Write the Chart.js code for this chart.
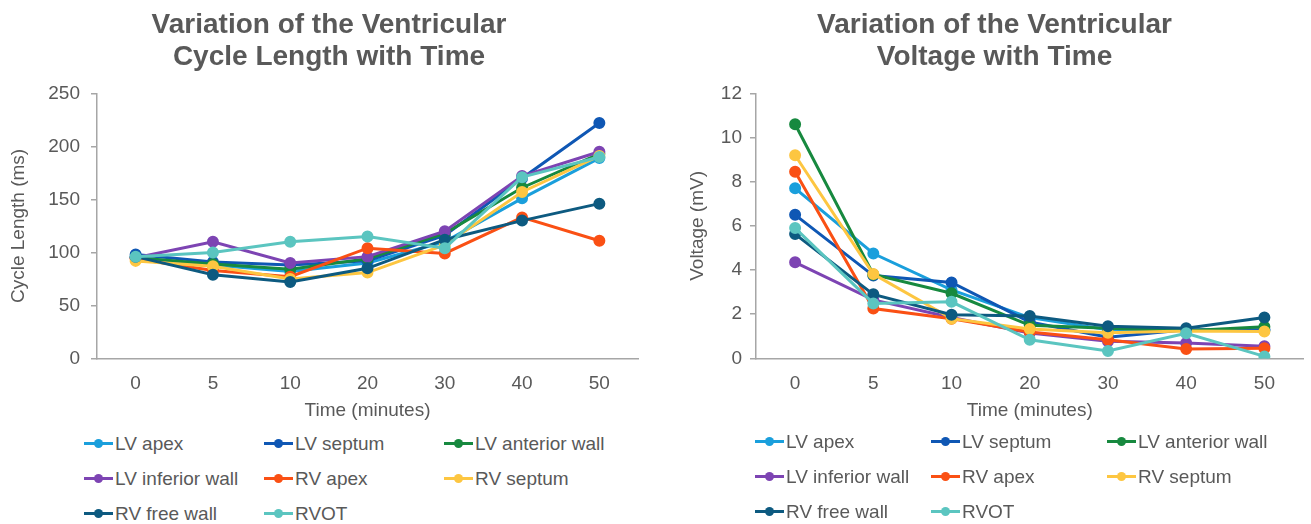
<!DOCTYPE html>
<html>
<head>
<meta charset="utf-8">
<script src="https://cdn.jsdelivr.net/npm/chart.js@4.4.1/dist/chart.umd.min.js"></script>
<style>
    body { margin: 0; background: #fff; font-family: "Liberation Sans", Arial, sans-serif; }
    .panel { position: absolute; top: 0; height: 524px; }
    .box { position: relative; height: 425px; }
    .legend { position: absolute; display: grid; grid-auto-rows: 35px; color: #595959; font-size: 19px; }
    .item { display: flex; align-items: center; white-space: nowrap; }
    .mark { position: relative; width: 29px; height: 3px; margin-right: 2px; }
    .mark i { position: absolute; left: 10px; top: -3px; width: 9px; height: 9px; border-radius: 50%; }
</style>
</head>
<body>
<div class="panel" style="left:0;width:660px">
    <div class="box"><canvas id="cycleChart"></canvas></div>
    <div class="legend" id="cycleLegend" style="left:84px;top:426px;grid-template-columns:180px 180px 180px"></div>
</div>
<div class="panel" style="left:680px;width:631px">
    <div class="box"><canvas id="voltageChart"></canvas></div>
    <div class="legend" id="voltageLegend" style="left:75px;top:424px;grid-template-columns:176px 176px 176px"></div>
</div>
<script>
const times = ["0", "5", "10", "20", "30", "40", "50"];
const sites = ["LV apex", "LV septum", "LV anterior wall", "LV inferior wall",
    "RV apex", "RV septum", "RV free wall", "RVOT"];
const colors = ["#1a9fdc", "#0f57b4", "#17893f", "#7d44b3",
    "#fa5014", "#fdc641", "#0d5a80", "#5bc5c0"];

// cycle length (ms)
const clLvApex = [95, 88, 82, 90, 110, 151, 189];
const clLvSeptum = [98, 91, 88, 92, 116, 170, 222];
const clLvAnterior = [95, 89, 84, 94, 118, 161, 193];
const clLvInferior = [95, 110, 90, 96, 120, 172, 195];
const clRvApex = [94, 83, 77, 104, 99, 133, 111];
const clRvSeptum = [92, 87, 75, 81, 107, 157, 191];
const clRvFree = [96, 79, 72, 85, 112, 130, 146];
const clRvot = [96, 100, 110, 115, 104, 171, 190];

// voltage (mV)
const vLvApex = [7.7, 4.75, 3.1, 1.85, 1.3, 1.28, 1.28];
const vLvSeptum = [6.5, 3.75, 3.44, 1.65, 0.96, 1.3, 1.3];
const vLvAnterior = [10.6, 3.8, 2.95, 1.5, 1.37, 1.25, 1.43];
const vLvInferior = [4.35, 2.65, 1.85, 1.15, 0.78, 0.7, 0.55];
const vRvApex = [8.45, 2.26, 1.8, 1.2, 0.84, 0.43, 0.46];
const vRvSeptum = [9.2, 3.82, 1.8, 1.33, 1.16, 1.24, 1.22];
const vRvFree = [5.63, 2.9, 1.98, 1.92, 1.46, 1.37, 1.85];
const vRvot = [5.9, 2.49, 2.56, 0.84, 0.34, 1.14, 0.09];

const cycleSeries = [clLvApex, clLvSeptum, clLvAnterior, clLvInferior, clRvApex, clRvSeptum, clRvFree, clRvot];
const voltageSeries = [vLvApex, vLvSeptum, vLvAnterior, vLvInferior, vRvApex, vRvSeptum, vRvFree, vRvot];

const grey = "#595959";
const axisGrey = "#a6a6a6";
const font = "'Liberation Sans', Arial, sans-serif";

function buildLegend(chart, id) {
    const el = document.getElementById(id);
    chart.data.datasets.forEach(ds => {
        const item = document.createElement("div");
        item.className = "item";
        item.innerHTML = '<span class="mark" style="background:' + ds.borderColor +
            '"><i style="background:' + ds.borderColor + '"></i></span>' + ds.label;
        el.appendChild(item);
    });
}

function makeChart(canvasId, legendId, title, yTitle, yMax, step, series, axisWidth, rightGap, tickPad, titlePad) {
    const chart = new Chart(document.getElementById(canvasId), {
        type: "line",
        data: {
            labels: times,
            datasets: series.map((values, i) => ({
                label: sites[i],
                data: values,
                borderColor: colors[i],
                backgroundColor: colors[i],
                pointBackgroundColor: colors[i],
                pointBorderColor: colors[i],
                borderWidth: 3,
                pointRadius: 4.5,
                tension: 0,
                order: series.length - i,
            })),
        },
        options: {
            responsive: true,
            maintainAspectRatio: false,
            animation: false,
            layout: { padding: { top: 0, right: 2, bottom: 0, left: 0 } },
            plugins: {
                legend: { display: false },
                tooltip: { enabled: false },
                title: {
                    display: true,
                    text: title,
                    color: grey,
                    font: { family: font, size: 28, weight: "bold", lineHeight: 1.15 },
                    padding: { top: 9, bottom: 20 },
                },
            },
            scales: {
                x: {
                    offset: true,
                    grid: { display: true, drawOnChartArea: false, drawTicks: false },
                    border: { display: true, color: axisGrey, width: 1.5 },
                    ticks: { color: grey, padding: 14, font: { family: font, size: 19 } },
                    title: {
                        display: true,
                        text: "Time (minutes)",
                        color: grey,
                        font: { family: font, size: 19 },
                        padding: { top: -10, bottom: 3 },
                    },
                },
                y: {
                    min: 0,
                    max: yMax,
                    afterFit: scale => { scale.width = axisWidth; },
                    grid: { display: true, drawOnChartArea: false, drawTicks: true, tickLength: 6, color: axisGrey, lineWidth: 1.5 },
                    border: { display: true, color: axisGrey, width: 1.5 },
                    ticks: { stepSize: step, color: grey, padding: tickPad, font: { family: font, size: 19 } },
                    title: {
                        display: true,
                        text: yTitle,
                        color: grey,
                        font: { family: font, size: 19 },
                        padding: { top: titlePad, bottom: 0 },
                    },
                },
                // empty right-hand spacer so the title stays centred on the whole panel
                gap: {
                    position: "right",
                    min: 0,
                    max: 1,
                    afterFit: scale => { scale.width = rightGap; },
                    grid: { display: false },
                    border: { display: false },
                    ticks: { display: false },
                },
            },
        },
    });
    buildLegend(chart, legendId);
    return chart;
}

makeChart("cycleChart", "cycleLegend", ["Variation of the Ventricular", "Cycle Length with Time"],
    "Cycle Length (ms)", 250, 50, cycleSeries, 97, 20, 11, 7);
makeChart("voltageChart", "voltageLegend", ["Variation of the Ventricular", "Voltage with Time"],
    "Voltage (mV)", 12, 2, voltageSeries, 76, 0, 8, 6);
</script>
</body>
</html>
